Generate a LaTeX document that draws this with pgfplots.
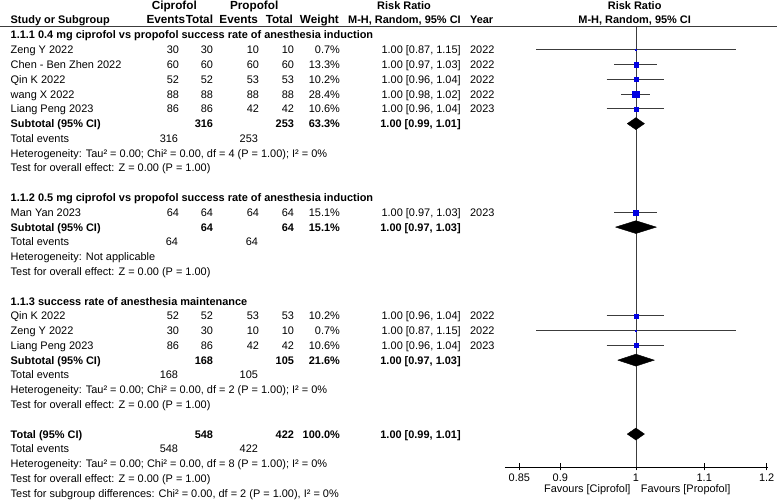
\documentclass[border=0pt]{standalone}
\usepackage{pgfplots}
\pgfplotsset{compat=1.18}
\usepackage{fontspec}
\setmainfont{Liberation Sans}
\definecolor{sqblue}{RGB}{0,0,225}
\definecolor{ciline}{RGB}{60,60,60}
\tikzset{t/.style={inner sep=0pt, font=\fontsize{11}{13}\selectfont},
  h/.style={inner sep=0pt, font=\fontsize{11.8}{13}\selectfont\bfseries}}
\newcommand\Lt[3]{\node[t,anchor=base west] at (#1,-#2-4) {#3};}
\newcommand\Rt[3]{\node[t,anchor=base east] at (#1,-#2-4) {#3};}
\newcommand\Ct[3]{\node[t,anchor=base] at (#1,-#2-4) {#3};}
\newcommand\Hr[3]{\node[h,anchor=base east] at (#1,-#2-4) {#3};}
\newcommand\Study[9]{\Lt{10}{#1}{#2}\Rt{179}{#1}{#3}\Rt{213}{#1}{#4}\Rt{259}{#1}{#5}\Rt{294}{#1}{#6}\Rt{340}{#1}{#7}\Rt{461}{#1}{#8}\Lt{470}{#1}{#9}}
\newcommand\Sb[6]{\Lt{10}{#1}{\bfseries #2}\Rt{213}{#1}{\bfseries #3}\Rt{294}{#1}{\bfseries #4}\Rt{340}{#1}{\bfseries #5}\Rt{461}{#1}{\bfseries #6}}
\newcommand\TE[3]{\Lt{10}{#1}{Total events}\Rt{178}{#1}{#2}\Rt{258}{#1}{#3}}
\begin{document}
\begin{tikzpicture}
\begin{scope}[x=1bp,y=1bp]
\fill[white] (0,0) rectangle (777,-504);
% headers
\node[h,anchor=base] at (174,-10) {Ciprofol};
\node[h,anchor=base] at (254,-10) {Propofol};
\Ct{404}{6}{\bfseries Risk Ratio}
\Ct{635}{6}{\bfseries Risk Ratio}
\Lt{10}{20}{\bfseries Study or Subgroup}
\Hr{185}{20}{Events}
\Hr{213}{20}{Total}
\Hr{258}{20}{Events}
\Hr{293}{20}{Total}
\Hr{339}{20}{Weight}
\Rt{461}{20}{\bfseries M-H, Random, 95\% CI}
\Lt{470}{20}{\bfseries Year}
\Ct{635}{20}{\bfseries M-H, Random, 95\% CI}
\draw[ciline, line width=1bp] (0,-26.5) -- (777,-26.5);
% group 1
\Lt{10}{35}{\bfseries 1.1.1 0.4 mg ciprofol vs propofol success rate of anesthesia induction}
\Study{49.8}{Zeng Y 2022}{30}{30}{10}{10}{0.7\%}{1.00 [0.87, 1.15]}{2022}
\Study{64.6}{Chen - Ben Zhen 2022}{60}{60}{60}{60}{13.3\%}{1.00 [0.97, 1.03]}{2022}
\Study{79.4}{Qin K 2022}{52}{52}{53}{53}{10.2\%}{1.00 [0.96, 1.04]}{2022}
\Study{94.2}{wang X 2022}{88}{88}{88}{88}{28.4\%}{1.00 [0.98, 1.02]}{2022}
\Study{109}{Liang Peng 2023}{86}{86}{42}{42}{10.6\%}{1.00 [0.96, 1.04]}{2023}
\Sb{123.8}{Subtotal (95\% CI)}{316}{253}{63.3\%}{1.00 [0.99, 1.01]}
\TE{138.6}{316}{253}
\Lt{10}{153.4}{Heterogeneity: Tau² = 0.00; Chi² = 0.00, df = 4 (P = 1.00); I² = 0\%}
\Lt{10}{168.2}{Test for overall effect: Z = 0.00 (P = 1.00)}
% group 2
\Lt{10}{197.8}{\bfseries 1.1.2 0.5 mg ciprofol vs propofol success rate of anesthesia induction}
\Study{212.6}{Man Yan 2023}{64}{64}{64}{64}{15.1\%}{1.00 [0.97, 1.03]}{2023}
\Sb{227.4}{Subtotal (95\% CI)}{64}{64}{15.1\%}{1.00 [0.97, 1.03]}
\TE{242.2}{64}{64}
\Lt{10}{257}{Heterogeneity: Not applicable}
\Lt{10}{271.8}{Test for overall effect: Z = 0.00 (P = 1.00)}
% group 3
\Lt{10}{301.4}{\bfseries 1.1.3 success rate of anesthesia maintenance}
\Study{316.2}{Qin K 2022}{52}{52}{53}{53}{10.2\%}{1.00 [0.96, 1.04]}{2022}
\Study{331}{Zeng Y 2022}{30}{30}{10}{10}{0.7\%}{1.00 [0.87, 1.15]}{2022}
\Study{345.8}{Liang Peng 2023}{86}{86}{42}{42}{10.6\%}{1.00 [0.96, 1.04]}{2023}
\Sb{360.6}{Subtotal (95\% CI)}{168}{105}{21.6\%}{1.00 [0.97, 1.03]}
\TE{375.4}{168}{105}
\Lt{10}{390.2}{Heterogeneity: Tau² = 0.00; Chi² = 0.00, df = 2 (P = 1.00); I² = 0\%}
\Lt{10}{405}{Test for overall effect: Z = 0.00 (P = 1.00)}
% total
\Sb{434.6}{Total (95\% CI)}{548}{422}{100.0\%}{1.00 [0.99, 1.01]}
\TE{449.4}{548}{422}
\Lt{10}{464.2}{Heterogeneity: Tau² = 0.00; Chi² = 0.00, df = 8 (P = 1.00); I² = 0\%}
\Lt{10}{479}{Test for overall effect: Z = 0.00 (P = 1.00)}
\Lt{10}{493.8}{Test for subgroup differences: Chi² = 0.00, df = 2 (P = 1.00), I² = 0\%}
\Rt{631}{489}{Favours [Ciprofol]}
\Lt{641}{489}{Favours [Propofol]}
\end{scope}
\begin{axis}[at={(505bp,-467.5bp)}, anchor=south west, scale only axis,
  width=263bp, height=441bp, xmode=log, xmin=0.833, xmax=1.2015,
  ymin=-467.5, ymax=-26.5, axis x line*=bottom, axis y line=none, clip=false,
  xtick={0.85,0.9,1,1.1,1.2}, xticklabels={0.85,0.9,1,1.1,1.2},
  tick align=center, major tick length=7bp, tick style={black, line width=0.6pt},
  axis line style={black, line width=0.6pt},
  xticklabel style={font=\fontsize{11}{13}\selectfont, inner sep=1pt, yshift=-2.5bp}]
\addplot[ciline, line width=0.8pt] coordinates {(1,-467.5) (1,-26.5)};
% CI lines
\addplot[ciline, line width=0.8pt] coordinates {(0.87,-49.8) (1.15,-49.8)};
\addplot[ciline, line width=0.8pt] coordinates {(0.97,-64.6) (1.03,-64.6)};
\addplot[ciline, line width=0.8pt] coordinates {(0.96,-79.4) (1.04,-79.4)};
\addplot[ciline, line width=0.8pt] coordinates {(0.98,-94.2) (1.02,-94.2)};
\addplot[ciline, line width=0.8pt] coordinates {(0.96,-109) (1.04,-109)};
\addplot[ciline, line width=0.8pt] coordinates {(0.97,-212.6) (1.03,-212.6)};
\addplot[ciline, line width=0.8pt] coordinates {(0.96,-316.2) (1.04,-316.2)};
\addplot[ciline, line width=0.8pt] coordinates {(0.87,-331) (1.15,-331)};
\addplot[ciline, line width=0.8pt] coordinates {(0.96,-345.8) (1.04,-345.8)};
% squares
\addplot[only marks, mark=square*, mark size=0.7pt, color=sqblue] coordinates {(1,-49.8) (1,-331)};
\addplot[only marks, mark=square*, mark size=2.2pt, color=sqblue] coordinates {(1,-64.6)};
\addplot[only marks, mark=square*, mark size=2pt, color=sqblue] coordinates {(1,-79.4) (1,-109) (1,-316.2) (1,-345.8)};
\addplot[only marks, mark=square*, mark size=3.3pt, color=sqblue] coordinates {(1,-94.2)};
\addplot[only marks, mark=square*, mark size=2.4pt, color=sqblue] coordinates {(1,-212.6)};
% diamonds
\addplot[fill=black, draw=black] coordinates {(0.988,-123.8) (1,-117.8) (1.012,-123.8) (1,-129.8) (0.988,-123.8)};
\addplot[fill=black, draw=black] coordinates {(0.972,-227.4) (1,-221) (1.029,-227.4) (1,-233.8) (0.972,-227.4)};
\addplot[fill=black, draw=black] coordinates {(0.975,-360.6) (1,-354.6) (1.026,-360.6) (1,-366.6) (0.975,-360.6)};
\addplot[fill=black, draw=black] coordinates {(0.988,-434.6) (1,-428.6) (1.012,-434.6) (1,-440.6) (0.988,-434.6)};
\end{axis}
\end{tikzpicture}
\end{document}
